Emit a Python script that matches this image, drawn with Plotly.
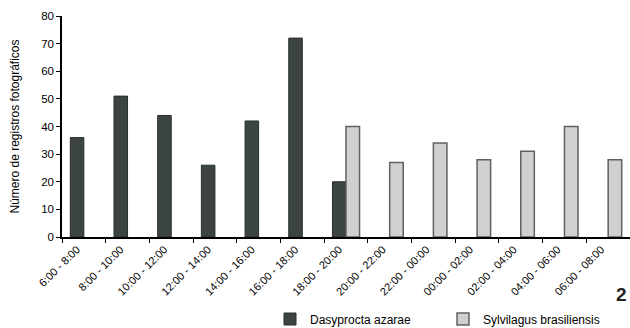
import plotly.graph_objects as go

categories = ["6:00 - 8:00", "8:00 - 10:00", "10:00 - 12:00", "12:00 - 14:00",
              "14:00 - 16:00", "16:00 - 18:00", "18:00 - 20:00", "20:00 - 22:00",
              "22:00 - 00:00", "00:00 - 02:00", "02:00 - 04:00", "04:00 - 06:00",
              "06:00 - 08:00"]
dasyprocta = [36, 51, 44, 26, 42, 72, 20, None, None, None, None, None, None]
sylvilagus = [None, None, None, None, None, None, 40, 27, 34, 28, 31, 40, 28]
y_ticks = [0, 10, 20, 30, 40, 50, 60, 70, 80]

FONT = "Liberation Sans, Arial, sans-serif"

# body margin is removed by the post script, so the figure fills the 630x328 window
W, H = 630, 328
ML, MT, MB = 62, 16, 91
PLOT_W = W - ML
PLOT_H = H - MT - MB

def px_x(x):  # window x (px) -> paper x
    return (x - ML) / PLOT_W

def px_y(y):  # window y (px) -> paper y
    return (MT + PLOT_H - y) / PLOT_H

fig = go.Figure()
fig.add_trace(go.Bar(
    x=categories, y=dasyprocta, name="Dasyprocta azarae",
    marker=dict(color="#3c4442", line=dict(color="#2a2f2e", width=1)),
))
fig.add_trace(go.Bar(
    x=categories, y=sylvilagus, name="Sylvilagus brasiliensis",
    marker=dict(color="#d0d0d0", line=dict(color="#606060", width=1.5)),
))

fig.update_layout(
    template="none",
    width=W, height=H,
    margin=dict(l=ML, r=0, t=MT, b=MB, autoexpand=False),
    paper_bgcolor="white", plot_bgcolor="white",
    barmode="group", bargap=0.38, bargroupgap=0,
    font=dict(family=FONT, color="#000000", size=10),
    showlegend=True,
    legend=dict(
        orientation="h", x=px_x(270), xanchor="left", y=px_y(319), yanchor="middle",
        font=dict(size=12, family=FONT, color="#000"),
        itemwidth=30, entrywidth=128, entrywidthmode="pixels",
        bgcolor="rgba(0,0,0,0)", traceorder="normal",
    ),
    xaxis=dict(
        type="category", tickson="boundaries", ticks="outside", ticklen=4,
        tickcolor="#000", showline=True, linecolor="#000", linewidth=1.5,
        tickangle=-45, tickfont=dict(size=11, family=FONT, color="#000"), showgrid=False,
        range=[-0.5, 12.5], automargin=False, ticklabelshift=-7,
    ),
    yaxis=dict(
        range=[0, 80], tickvals=y_ticks, ticks="outside", ticklen=4,
        tickcolor="#000", showline=True, linecolor="#000", linewidth=1.5,
        showgrid=False, zeroline=False, tickfont=dict(size=11.5, family=FONT, color="#000"),
        automargin=False,
        title=dict(text="Número de registros fotográficos",
                   font=dict(size=12, family=FONT, color="#000"), standoff=19),
    ),
    annotations=[dict(
        text="<b>2</b>", x=px_x(628), y=px_y(294), xref="paper", yref="paper",
        showarrow=False, xanchor="right", yanchor="middle", borderpad=0,
        font=dict(size=19, family=FONT, color="#222"),
    )],
)

fig.write_html(
    "out.html",
    config={"displayModeBar": False},
    post_script="document.body.style.margin='0';document.body.style.overflow='hidden';",
)
